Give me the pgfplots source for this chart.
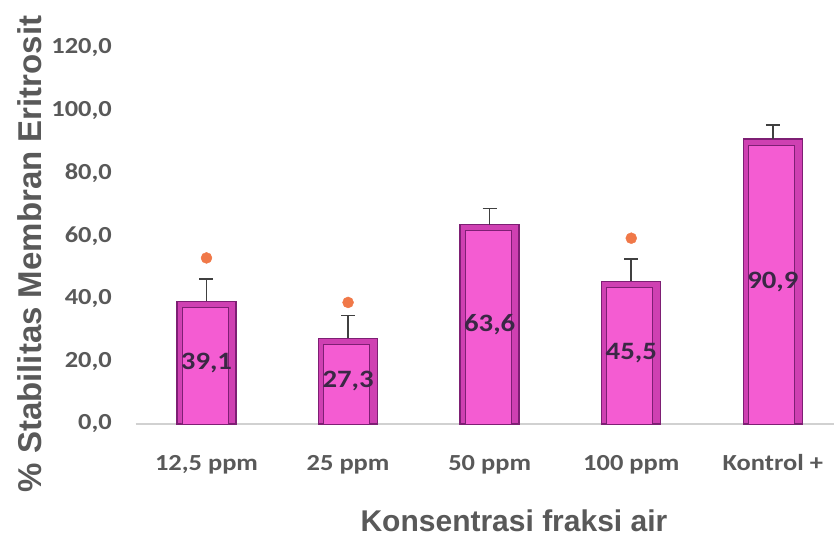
\documentclass[border=0pt]{standalone}
\usepackage{pgfplots}
\pgfplotsset{compat=1.18}
\usepackage{fontspec}
\setmainfont{Carlito}[FakeStretch=1.15]
\newfontfamily\arialfont{Liberation Sans}
\definecolor{barpink}{HTML}{F45CD2}
\definecolor{bardark}{HTML}{7E1F74}
\definecolor{barband}{HTML}{CF40B2}
\definecolor{txtgray}{HTML}{595959}
\definecolor{lblcol}{HTML}{3A2845}
\definecolor{dotor}{HTML}{F07848}
\definecolor{errgray}{HTML}{404040}
\begin{document}
\begin{tikzpicture}[x=1pt,y=1pt]
\useasboundingbox (-135.7,-115) rectangle (698.3,424);
\begin{axis}[
  at={(0,0)}, anchor=south west,
  scale only axis, width=698.3pt, height=376pt,
  xmin=-0.5, xmax=4.432, ymin=0, ymax=120,
  separate axis lines,
  axis x line*=bottom, axis y line*=left,
  y axis line style={draw=none},
  x axis line style={draw=black!18, line width=1.2pt, -},
  tick style={draw=none},
  xtick={0,1,2,3,4},
  xticklabels={{12,5 ppm},{25 ppm},{50 ppm},{100 ppm},{Kontrol +}},
  ytick={0,20,...,120},
  /pgf/number format/assume math mode=true,
  yticklabel={\pgfmathprintnumber[fixed,fixed zerofill,precision=1,use comma,1000 sep={}]{\tick}},
  yticklabel style={anchor=east, inner sep=0pt, xshift=-23.7pt, font=\fontsize{23}{27}\selectfont\bfseries, text=txtgray},
  xticklabel style={anchor=base, inner sep=0pt, yshift=-46pt, font=\fontsize{23}{27}\selectfont\bfseries, text=txtgray},
  xlabel={Konsentrasi fraksi air},
  xlabel style={at={(axis description cs:0.5417,-0.258)}, anchor=center, font=\arialfont\bfseries\fontsize{30}{34}\selectfont, text=txtgray},
  ylabel={\% Stabilitas Membran Eritrosit},
  ylabel style={at={(axis description cs:-0.152,0.452)}, anchor=center, font=\arialfont\bfseries\fontsize{33}{37}\selectfont, text=txtgray},
]
% bars (outer bevel)
\addplot[ybar, bar width=59pt, fill=barband, draw=bardark, line width=1.4pt]
  coordinates {(0,39.1) (1,27.3) (2,63.6) (3,45.5) (4,90.9)};
% bars (inner face)
\addplot[ybar, bar width=46pt, bar shift=-1.5pt, fill=barpink, draw=bardark, line width=0.8pt,
  y filter/.expression={y-1.9}, forget plot]
  coordinates {(0,39.1) (1,27.3) (2,63.6) (3,45.5) (4,90.9)};
% error bars
\addplot[draw=none, mark=none, forget plot,
  error bars/.cd, y dir=plus, y explicit,
  error bar style={line width=1.6pt, draw=errgray},
  error mark options={rotate=90, mark size=7pt, line width=1.6pt, draw=errgray}]
  coordinates {(0,39.1) +- (0,7.1) (1,27.3) +- (0,7.3) (2,63.6) +- (0,5.2) (3,45.5) +- (0,7.2) (4,90.9) +- (0,4.5)};
% value labels
\addplot[draw=none, mark=none, forget plot,
  visualization depends on={y \as \rawy},
  nodes near coords={\pgfmathprintnumber[fixed,fixed zerofill,precision=1,use comma]{\pgfplotspointmeta}},
  nodes near coords style={anchor=center, inner sep=0pt, font=\fontsize{25}{29}\selectfont\bfseries, text=lblcol,
    shift={(axis direction cs:0,-\rawy/2)}}]
  coordinates {(0,39.1) (1,27.3) (2,63.6) (3,45.5) (4,90.9)};
% significance markers
\addplot[only marks, mark=*, mark size=5.5pt, color=dotor, forget plot]
  coordinates {(0,53.0) (1,38.8) (3,59.3)};
\end{axis}
\end{tikzpicture}
\end{document}
